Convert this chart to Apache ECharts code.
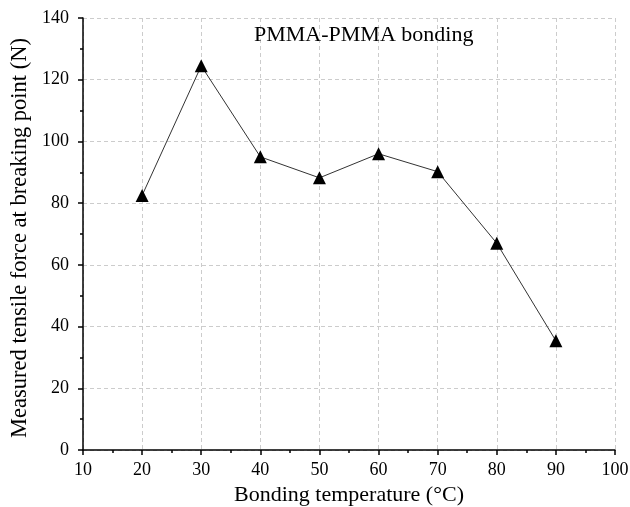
<!DOCTYPE html>
<html>
<head>
<meta charset="utf-8">
<script src="https://cdn.jsdelivr.net/npm/echarts@6/dist/echarts.min.js"></script>
<style>html,body{margin:0;padding:0;background:#fff}#c{width:630px;height:507px}</style>
</head>
<body>
<div id="c"></div>
<script>
const temperatures = [20, 30, 40, 50, 60, 70, 80, 90];
const forces = [82.5, 124.5, 95, 88.2, 96, 90.2, 67, 35.4];
const titleText = 'PMMA-PMMA bonding';
const xName = 'Bonding temperature (\u00B0C)';
const yName = 'Measured tensile force at breaking point (N)';

const font = '"Liberation Serif", "Times New Roman", serif';
const chart = echarts.init(document.getElementById('c'), null, {renderer: 'canvas'});
chart.setOption({
  animation: false,
  backgroundColor: '#fff',
  title: {
    text: titleText,
    left: 249, top: 19,
    textStyle: {fontFamily: font, fontSize: 22, fontWeight: 'normal', color: '#000'}
  },
  grid: {left: 83, right: 15, top: 18, bottom: 57, containLabel: false, outerBoundsMode: 'none'},
  xAxis: {
    type: 'value', min: 10, max: 100, interval: 10,
    name: xName, nameLocation: 'middle', nameGap: 32,
    nameTextStyle: {fontFamily: font, fontSize: 22, color: '#000'},
    axisLine: {show: true, lineStyle: {color: '#000', width: 1.5}},
    axisTick: {show: true, inside: false, length: 5, lineStyle: {color: '#000', width: 1.5}},
    minorTick: {show: true, splitNumber: 2, length: 3, lineStyle: {color: '#000', width: 1.5}},
    axisLabel: {fontFamily: font, fontSize: 18, color: '#000', margin: 11},
    splitLine: {show: true, lineStyle: {color: '#ccc', type: [4, 3], width: 1}}
  },
  yAxis: {
    type: 'value', min: 0, max: 140, interval: 20,
    name: yName, nameLocation: 'middle', nameGap: 51,
    nameTextStyle: {fontFamily: font, fontSize: 22.5, color: '#000', padding: [0, 8, 0, 0]},
    axisLine: {show: true, lineStyle: {color: '#000', width: 1.5}},
    axisTick: {show: true, inside: false, length: 5, lineStyle: {color: '#000', width: 1.5}},
    minorTick: {show: true, splitNumber: 2, length: 3, lineStyle: {color: '#000', width: 1.5}},
    axisLabel: {fontFamily: font, fontSize: 18, color: '#000', margin: 14},
    splitLine: {show: true, lineStyle: {color: '#ccc', type: [4, 3], width: 1}}
  },
  series: [{
    type: 'line',
    data: temperatures.map((t, i) => [t, forces[i]]),
    symbol: 'triangle',
    symbolSize: 13,
    itemStyle: {color: '#000'},
    lineStyle: {color: '#333', width: 1}
  }]
});
</script>
</body>
</html>
